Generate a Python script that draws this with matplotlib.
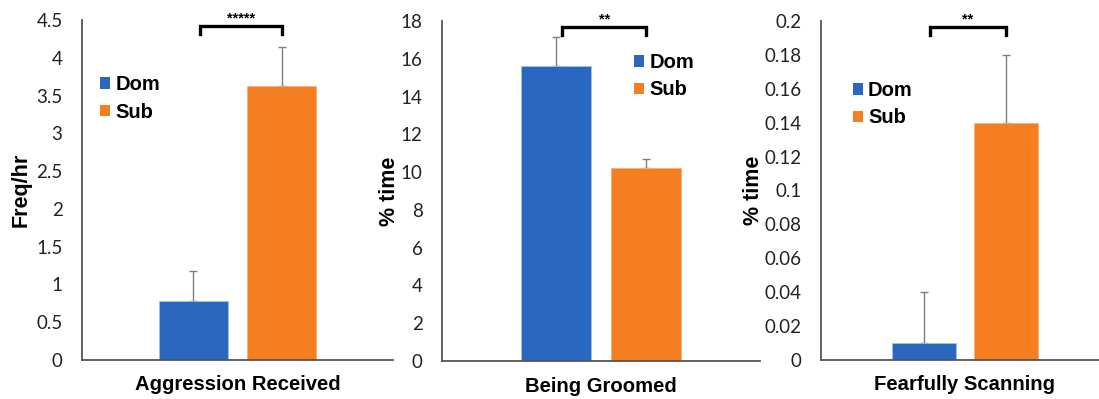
import matplotlib
matplotlib.use("Agg")
import matplotlib.pyplot as plt
from matplotlib.patches import Patch

# Behaviour measures, dominant vs subordinate
groups = ["Dom", "Sub"]
titles = ["Aggression Received", "Being Groomed", "Fearfully Scanning"]
ylabels = ["Freq/hr", "% time", "% time"]
means_aggr = [0.78, 3.63]
err_aggr = [0.40, 0.51]
means_groom = [15.6, 10.2]
err_groom = [1.55, 0.50]
means_scan = [0.01, 0.14]
err_scan = [0.03, 0.04]
stars = ["*****", "**", "**"]
ymax = [4.5, 18, 0.2]
yticks = [
    [0, 0.5, 1, 1.5, 2, 2.5, 3, 3.5, 4, 4.5],
    [0, 2, 4, 6, 8, 10, 12, 14, 16, 18],
    [0, 0.02, 0.04, 0.06, 0.08, 0.1, 0.12, 0.14, 0.16, 0.18, 0.2],
]
yticklabels = [
    ["0", "0.5", "1", "1.5", "2", "2.5", "3", "3.5", "4", "4.5"],
    ["0", "2", "4", "6", "8", "10", "12", "14", "16", "18"],
    ["0", "0.02", "0.04", "0.06", "0.08", "0.1", "0.12", "0.14", "0.16", "0.18", "0.2"],
]

colors = ["#2A67C0", "#F57F20"]
W, H = 1099, 399

fig = plt.figure(figsize=(W / 100, H / 100), dpi=100)

# panel geometry in pixels: left, right, zero line, top
boxes = [(82, 393, 360, 20), (442, 760, 361, 21), (821, 1109, 360, 21)]
legend_pos = [(0.058, 0.838), (0.604, 0.906), (0.111, 0.823)]
ylabel_x = [-0.195, -0.165, -0.235]

all_means = [means_aggr, means_groom, means_scan]
all_errs = [err_aggr, err_groom, err_scan]

offset = 0.142
width = 0.22
tick_font = "Lato"
bold_font = "Liberation Sans"

for i in range(3):
    l, r, b, t = boxes[i]
    ax = fig.add_axes([l / W, 1 - b / H, (r - l) / W, (b - t) / H])
    xs = [-offset, offset]
    for j in range(2):
        ax.bar(xs[j], all_means[i][j], width=width, color=colors[j],
               edgecolor="#9DC3E6" if j == 0 else "#F8B27A", linewidth=0.6,
               zorder=2)
        ax.errorbar(xs[j], all_means[i][j], yerr=[[0], [all_errs[i][j]]],
                    fmt="none", ecolor="#7F7F7F", elinewidth=1.0,
                    capsize=3, capthick=1.0, zorder=1)
    ax.set_xlim(-0.5, 0.5)
    ax.set_ylim(0, ymax[i])
    ax.set_xticks([])
    ax.set_yticks(yticks[i])
    ax.set_yticklabels(yticklabels[i], fontfamily=tick_font, fontsize=13.5,
                       color="#222222")
    ax.tick_params(axis="y", length=0, pad=14)
    for side in ["top", "right"]:
        ax.spines[side].set_visible(False)
    for side in ["left", "bottom"]:
        ax.spines[side].set_color("#555555")
        ax.spines[side].set_linewidth(1.3)

    # significance bracket
    x0, x1 = xs[0] + 0.02, xs[1]
    ax.plot([x0, x0, x1, x1], [0.96, 0.982, 0.982, 0.96],
            transform=ax.get_xaxis_transform(), color="black", lw=2.4,
            clip_on=False, solid_joinstyle="miter")
    ax.text((x0 + x1) / 2, 0.985, stars[i], transform=ax.get_xaxis_transform(),
            ha="center", va="bottom", fontsize=10.5, fontweight="bold",
            fontfamily=bold_font)

    ax.text(0.5, -25 / (b - t), titles[i], transform=ax.transAxes,
            ha="center", va="center", fontsize=14.6, fontweight="bold",
            fontfamily=bold_font)
    ax.text(ylabel_x[i], 0.5, ylabels[i], transform=ax.transAxes,
            rotation=90, ha="center", va="center", fontsize=15.5,
            fontweight="bold", fontfamily=bold_font)

    handles = [Patch(facecolor=colors[k], edgecolor="none") for k in range(2)]
    ax.legend(handles, groups, loc="upper left", bbox_to_anchor=legend_pos[i],
              frameon=False, borderpad=0, borderaxespad=0,
              handlelength=0.5, handleheight=0.5, handletextpad=0.25,
              labelspacing=0.42,
              prop={"family": bold_font, "weight": "bold", "size": 14.5})

fig.savefig("out.png", dpi=100)
